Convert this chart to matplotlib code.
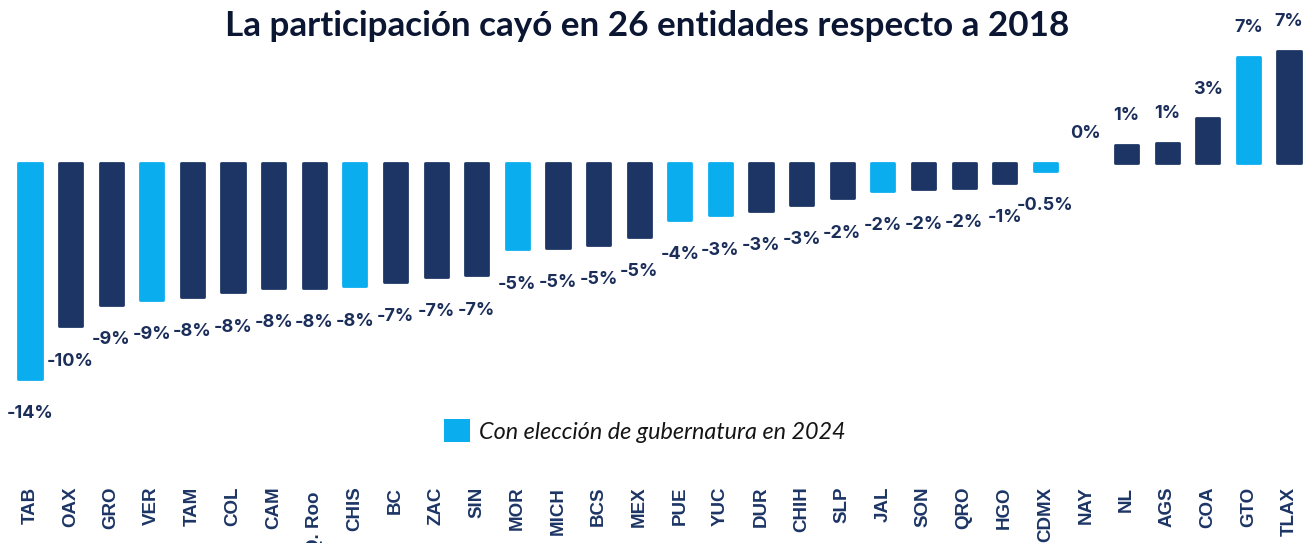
import matplotlib
matplotlib.use("Agg")
import matplotlib.pyplot as plt
from matplotlib.patches import Patch

states = ["TAB", "OAX", "GRO", "VER", "TAM", "COL", "CAM", "Q. Roo ", "CHIS", "BC",
          "ZAC", "SIN", "MOR", "MICH", "BCS", "MEX", "PUE", "YUC", "DUR", "CHIH",
          "SLP", "JAL", "SON", "QRO", "HGO", "CDMX", "NAY", "NL", "AGS", "COA",
          "GTO", "TLAX"]
values = [-14.0, -10.6, -9.2, -8.9, -8.7, -8.4, -8.1, -8.1, -8.0, -7.7,
          -7.4, -7.3, -5.6, -5.5, -5.3, -4.8, -3.7, -3.4, -3.1, -2.7,
          -2.3, -1.8, -1.7, -1.6, -1.3, -0.5, 0.0, 1.2, 1.3, 2.9,
          6.9, 7.3]
value_labels = ["-14%", "-10%", "-9%", "-9%", "-8%", "-8%", "-8%", "-8%", "-8%", "-7%",
                "-7%", "-7%", "-5%", "-5%", "-5%", "-5%", "-4%", "-3%", "-3%", "-3%",
                "-2%", "-2%", "-2%", "-2%", "-1%", "-0.5%", "0%", "1%", "1%", "3%",
                "7%", "7%"]
election_2024 = ["TAB", "VER", "CHIS", "MOR", "PUE", "YUC", "JAL", "CDMX", "GTO"]

LIGHT = "#0AAEEF"
NAVY = "#1C3565"
LABEL = "#1B2E5A"

W, H = 1315, 543
STEP = (1289 - 30) / 31
fig = plt.figure(figsize=(W / 100, H / 100), dpi=100)
ax = fig.add_axes([0, 1 - 470 / H, 1, 470 / H])

x = list(range(len(states)))
colors = [LIGHT if s in election_2024 else NAVY for s in states]

neg = [i for i, v in enumerate(values) if v < 0]
pos = [i for i, v in enumerate(values) if v >= 0]
for idx, pad in ((neg, 19), (pos, 15)):
    cols = [colors[i] for i in idx]
    lws = [0 if values[i] == 0 else 2 for i in idx]
    bars = ax.bar([x[i] for i in idx], [values[i] for i in idx], width=0.57,
                  color=cols, edgecolor=cols, linewidth=lws)
    for b in bars:
        b.set_joinstyle("round")
    ax.bar_label(bars, labels=[value_labels[i] for i in idx], padding=pad,
                 fontsize=13, fontweight="bold", color=LABEL, family="Inter")

ax.set_xlim(-30 / STEP, (W - 30) / STEP)
ax.set_ylim(-(470 - 163) / 15.4, 163 / 15.4)
for sp in ax.spines.values():
    sp.set_visible(False)
ax.set_yticks([])
ax.set_xticks(x)
ax.set_xticklabels(states, rotation=90, va="top", ha="center",
                   fontsize=13.5, fontweight="bold", color=NAVY,
                   family="Liberation Sans")
ax.tick_params(axis="x", length=0, pad=12)

fig.text(647 / W, 1 - 26 / H, "La participación cayó en 26 entidades respecto a 2018",
         ha="center", va="center", fontsize=25.2, fontweight="bold",
         color="#0B1633", family="Lato")

handle = Patch(facecolor=LIGHT, edgecolor="none")
fig.legend([handle], ["Con elección de gubernatura en 2024"],
           loc="center", bbox_to_anchor=(645 / W, 1 - 431 / H), frameon=False,
           prop={"family": "Lato", "style": "italic", "size": 16.8},
           handlelength=1.1, handleheight=1.1, handletextpad=0.4,
           labelcolor="#151515")

fig.savefig("out.png", dpi=100)
